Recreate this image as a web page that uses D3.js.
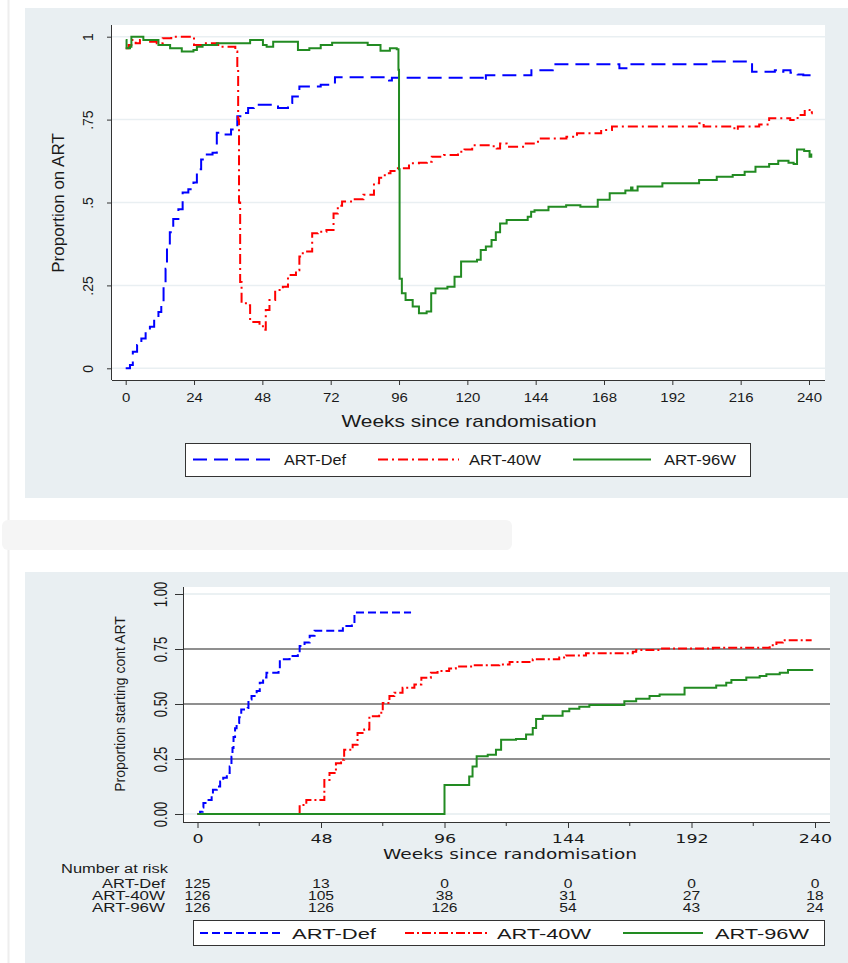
<!DOCTYPE html>
<html>
<head>
<meta charset="utf-8">
<script src="https://cdn.jsdelivr.net/npm/d3@7"></script>
<style>
  body { margin: 0; background: #fff; }
  svg { display: block; }
  text { font-family: "Liberation Sans", Arial, sans-serif; fill: #1a1a1a; }
</style>
</head>
<body>
<div id="viz"></div>
<script>
// ---- data ----
// top panel: proportion on ART, [week, proportion] step points
var topDef = [[0,0],[1.5,0.01],[2.5,0.05],[4,0.07],[5.5,0.09],[7,0.11],[8.5,0.125],[10,0.15],[11.5,0.17],[12.5,0.2],[13.3,0.25],[14,0.3],[14.5,0.37],[15.5,0.41],[16.7,0.45],[18.5,0.48],[20,0.53],[22,0.54],[23.8,0.56],[25,0.6],[26.5,0.63],[27.5,0.645],[30.5,0.65],[32,0.71],[34,0.705],[37,0.72],[39.2,0.76],[41,0.77],[43,0.785],[45,0.795],[51,0.795],[53.5,0.785],[57,0.8],[58.5,0.82],[61,0.85],[68.5,0.855],[71.5,0.862],[73.5,0.878],[91.5,0.874],[92.5,0.868],[93.5,0.876],[124.8,0.876],[125.4,0.866],[126.5,0.884],[142.5,0.899],[150,0.917],[172.8,0.917],[173.4,0.905],[176.5,0.917],[204.5,0.925],[220,0.894],[228,0.899],[229.5,0.894],[231,0.899],[233.5,0.891],[236,0.886],[238,0.884],[241,0.884]];
var top40W = [[0,0.965],[1,0.975],[2,0.99],[3.5,0.98],[5,0.99],[8,0.985],[10.9,0.98],[13,0.995],[16,1.0],[24,0.975],[27,0.98],[32.5,0.97],[38.5,0.955],[39.2,0.9],[39.5,0.75],[39.8,0.5],[40.2,0.26],[40.7,0.196],[43,0.19],[43.7,0.14],[47,0.13],[48.2,0.116],[49.2,0.176],[50.5,0.206],[52.5,0.236],[55.2,0.246],[57,0.281],[59.8,0.296],[61,0.337],[62.2,0.352],[65.5,0.407],[67.5,0.412],[70.5,0.417],[73,0.467],[74.5,0.49],[76,0.503],[80,0.51],[83.5,0.523],[87.2,0.558],[89,0.575],[91,0.588],[93,0.595],[95,0.603],[99.5,0.618],[103,0.62],[105.8,0.623],[107.5,0.638],[111.8,0.643],[116.7,0.653],[119,0.66],[121.7,0.673],[128,0.67],[130.3,0.663],[131.5,0.678],[133.8,0.668],[140,0.678],[144.8,0.693],[154.8,0.698],[158.5,0.709],[167,0.719],[170.8,0.729],[201.5,0.739],[203,0.729],[213.8,0.719],[215,0.729],[222.5,0.735],[226,0.754],[233.4,0.749],[236,0.764],[238.5,0.779],[240.2,0.769],[241,0.775]];
var top96W = [[0,0.99],[0.3,0.965],[1.5,0.97],[2,1.0],[6.2,0.99],[11.5,0.975],[15.6,0.965],[19.7,0.955],[23.8,0.96],[25,0.97],[27,0.975],[32,0.98],[43.7,0.99],[48.2,0.975],[49.5,0.97],[51.8,0.985],[60.5,0.96],[64.5,0.965],[68.5,0.975],[72.5,0.982],[85,0.975],[89.5,0.958],[92.8,0.965],[95.2,0.962],[95.8,0.9],[96,0.6],[96.2,0.27],[97,0.226],[98.3,0.206],[100.8,0.186],[103,0.166],[105.7,0.171],[107.3,0.226],[108.8,0.241],[113,0.246],[115.5,0.276],[117.8,0.322],[123.4,0.327],[124.7,0.357],[126.5,0.367],[128.5,0.387],[130,0.41],[131.5,0.437],[133.8,0.447],[141.2,0.457],[142.4,0.472],[143.6,0.477],[148.5,0.487],[154.7,0.492],[159.7,0.487],[165.8,0.508],[170,0.528],[175.5,0.536],[177.5,0.545],[178,0.536],[179.8,0.548],[188.5,0.558],[201.4,0.568],[207.6,0.578],[213.2,0.583],[217.4,0.593],[221.2,0.608],[226,0.616],[229.2,0.626],[232.8,0.62],[234.6,0.616],[235.8,0.66],[238.3,0.655],[240.2,0.638],[240.8,0.648]];

// bottom panel: proportion starting continuous ART
var botDef = [[0,0],[1,0.01],[2,0.03],[2.3,0.05],[4.3,0.064],[5.5,0.09],[6,0.11],[7.5,0.125],[8.8,0.148],[10,0.165],[11.4,0.186],[12.5,0.216],[13.2,0.26],[13.6,0.3],[14,0.35],[14.6,0.39],[15.2,0.414],[16.2,0.44],[17,0.475],[19.5,0.482],[19.8,0.52],[21,0.536],[23,0.559],[24.2,0.597],[25.5,0.62],[26.8,0.642],[31.5,0.65],[32,0.703],[35.8,0.718],[39,0.734],[39.7,0.764],[41.6,0.779],[43.6,0.81],[45.5,0.833],[56.5,0.855],[60,0.863],[61,0.916],[83,0.916]];
var bot40W = [[0,0],[39.7,0.041],[42.3,0.064],[49.3,0.155],[51.3,0.186],[53.8,0.231],[55.8,0.247],[57,0.292],[60.3,0.315],[62.2,0.368],[64.8,0.384],[66.8,0.444],[70.6,0.46],[72,0.505],[74.6,0.536],[76.5,0.551],[79.7,0.574],[84.3,0.589],[87,0.619],[90.7,0.642],[93.3,0.65],[97.8,0.661],[100.4,0.67],[106.9,0.676],[117.3,0.68],[121.3,0.691],[130.3,0.703],[140.6,0.711],[143.2,0.721],[151,0.731],[169.2,0.737],[170.5,0.746],[179.6,0.752],[200.3,0.756],[222.4,0.767],[225,0.779],[227.5,0.79],[238.7,0.79]];
var bot96W = [[0,0],[96,0.132],[105.6,0.17],[106.9,0.216],[108.5,0.262],[112.8,0.269],[116,0.292],[118,0.338],[123.8,0.341],[127.7,0.361],[130.3,0.391],[131.6,0.432],[134.2,0.447],[141.9,0.467],[144.5,0.478],[148.4,0.487],[152.3,0.495],[165.9,0.513],[170.5,0.524],[175.7,0.536],[179.6,0.543],[189.3,0.574],[201.6,0.584],[205.5,0.597],[207.5,0.609],[213.3,0.62],[218.5,0.627],[221.1,0.635],[226.3,0.642],[229.5,0.654],[239.3,0.654]];

var groups = ["ART-Def", "ART-40W", "ART-96W"];
var colors = ["#0000ff", "#ff0000", "#228b22"];
var topTicksX = [0,24,48,72,96,120,144,168,192,216,240];
var topTicksY = [0,0.25,0.5,0.75,1];
var topLabelsY = ["0",".25",".5",".75","1"];
var botTicksX = [0,48,96,144,192,240];
var botMinorX = [24,72,120,168,216];
var botTicksY = [0,0.25,0.5,0.75,1];
var botLabelsY = ["0.00","0.25","0.50","0.75","1.00"];
var riskDef = [125,13,0,0,0,0];
var risk40W = [126,105,38,31,27,18];
var risk96W = [126,126,126,54,43,24];

var W = 848, H = 963;
var BG = "#e9eff2";

var svg = d3.select("#viz").append("svg")
  .attr("width", W).attr("height", H);

svg.append("rect").attr("width", W).attr("height", H).attr("fill", "#fff");
// faint page edge + smudge between the panels
svg.append("line").attr("x1", 8.5).attr("x2", 8.5).attr("y1", 0).attr("y2", H)
  .attr("stroke", "#eeeeee").attr("stroke-width", 2);
svg.append("rect").attr("x", 2).attr("y", 520).attr("width", 510).attr("height", 30)
  .attr("rx", 6).attr("fill", "#f5f5f5");

// stretch text horizontally (the figure was scaled wider than tall)
function stretch(sel, k) {
  sel.each(function() {
    var w = this.getComputedTextLength();
    d3.select(this).attr("textLength", w * k).attr("lengthAdjust", "spacingAndGlyphs");
  });
}

// ================= top panel =================
svg.append("rect").attr("x", 25).attr("y", 8).attr("width", W - 25).attr("height", 490).attr("fill", BG);
svg.append("rect").attr("x", 112).attr("y", 25).attr("width", 713).attr("height", 355).attr("fill", "#fff");

var xTop = d3.scaleLinear().domain([0, 240]).range([125.7, 809]);
var yTop = d3.scaleLinear().domain([0, 1]).range([368.3, 36.7]);

// grid
svg.append("g").selectAll("line").data(topTicksY).join("line")
  .attr("x1", 112).attr("x2", 825)
  .attr("y1", function(d) { return yTop(d); }).attr("y2", function(d) { return yTop(d); })
  .attr("stroke", BG).attr("stroke-width", 1.5);

var gxTop = svg.append("g").attr("transform", "translate(0,380)")
  .call(d3.axisBottom(xTop).tickValues(topTicksX).tickSize(5).tickPadding(8).tickSizeOuter(0));
gxTop.select(".domain").attr("d", "M112,0.5H825").attr("stroke", "#333");
gxTop.selectAll(".tick line").attr("stroke", "#333");
gxTop.selectAll(".tick text").style("font-family", "Liberation Sans").attr("font-size", 13).attr("fill", "#1a1a1a");
stretch(gxTop.selectAll(".tick text"), 1.15);

var gyTop = svg.append("g").attr("transform", "translate(112,0)")
  .call(d3.axisLeft(yTop).tickValues(topTicksY).tickSize(5).tickSizeOuter(0)
    .tickFormat(function(d, i) { return topLabelsY[i]; }));
gyTop.select(".domain").attr("d", "M-0.5,25V380").attr("stroke", "#333");
gyTop.selectAll(".tick line").attr("stroke", "#333");
gyTop.selectAll(".tick text")
  .style("font-family", "Liberation Sans").attr("font-size", 14).attr("fill", "#1a1a1a")
  .attr("x", null).attr("dy", null).attr("text-anchor", "middle")
  .attr("transform", "translate(-19,0) rotate(-90)");

svg.append("text").attr("transform", "translate(64,203) rotate(-90)")
  .attr("text-anchor", "middle").attr("font-size", 17).text("Proportion on ART");
svg.append("text").attr("x", 469).attr("y", 427).attr("text-anchor", "middle")
  .attr("font-size", 17).attr("textLength", 255).attr("lengthAdjust", "spacingAndGlyphs")
  .text("Weeks since randomisation");

var lineTop = d3.line().curve(d3.curveStepAfter)
  .x(function(d) { return xTop(d[0]); }).y(function(d) { return yTop(d[1]); });
var topDash = ["14,7", "10,4,2,4", null];
[topDef, top40W, top96W].forEach(function(s, i) {
  svg.append("path").datum(s).attr("d", lineTop)
    .attr("fill", "none").attr("stroke", colors[i]).attr("stroke-width", 2)
    .attr("stroke-dasharray", topDash[i]);
});

// legend
svg.append("rect").attr("x", 185.5).attr("y", 443.5).attr("width", 565).attr("height", 33)
  .attr("fill", "#fff").attr("stroke", "#333");
var legTop = [[193, 273, 284, 62], [378, 459, 469, 72], [573, 651, 664, 72]];
legTop.forEach(function(l, i) {
  svg.append("line").attr("x1", l[0]).attr("x2", l[1]).attr("y1", 459.5).attr("y2", 459.5)
    .attr("stroke", colors[i]).attr("stroke-width", 2).attr("stroke-dasharray", topDash[i]);
  svg.append("text").attr("x", l[2]).attr("y", 464.5).attr("font-size", 14)
    .attr("textLength", l[3]).attr("lengthAdjust", "spacingAndGlyphs").text(groups[i]);
});

// ================= bottom panel =================
svg.append("rect").attr("x", 25).attr("y", 572).attr("width", W - 25).attr("height", H - 572).attr("fill", BG);
svg.append("rect").attr("x", 183).attr("y", 587).attr("width", 647).attr("height", 235).attr("fill", "#fff");

var xBot = d3.scaleLinear().domain([0, 240]).range([197.5, 815]);
var yBot = d3.scaleLinear().domain([0, 1]).range([814, 594]);

svg.append("g").selectAll("line").data(botTicksY).join("line")
  .attr("x1", 183).attr("x2", 830)
  .attr("y1", function(d) { return yBot(d); }).attr("y2", function(d) { return yBot(d); })
  .attr("stroke", function(d) { return (d === 0 || d === 1) ? "#e4ecef" : "#6a6a6a"; })
  .attr("stroke-width", 1.5);

var gxBot = svg.append("g").attr("transform", "translate(0,822)")
  .call(d3.axisBottom(xBot).tickValues(botTicksX).tickSize(6).tickPadding(6).tickSizeOuter(0));
gxBot.select(".domain").attr("d", "M183,0.5H830").attr("stroke", "#333");
gxBot.selectAll(".tick line").attr("stroke", "#333");
gxBot.selectAll(".tick text").style("font-family", "DejaVu Sans").attr("font-size", 12.5).attr("fill", "#1a1a1a");
stretch(gxBot.selectAll(".tick text"), 1.4);
gxBot.append("g").selectAll("line").data(botMinorX).join("line")
  .attr("x1", function(d) { return xBot(d); }).attr("x2", function(d) { return xBot(d); })
  .attr("y1", 0).attr("y2", 4).attr("stroke", "#333");

var gyBot = svg.append("g").attr("transform", "translate(183,0)")
  .call(d3.axisLeft(yBot).tickValues(botTicksY).tickSize(8).tickSizeOuter(0)
    .tickFormat(function(d, i) { return botLabelsY[i]; }));
gyBot.select(".domain").attr("d", "M0.5,587V822").attr("stroke", "#333");
gyBot.selectAll(".tick line").attr("stroke", "#333");
gyBot.selectAll(".tick text")
  .style("font-family", "Liberation Sans").attr("font-size", 13).attr("fill", "#1a1a1a")
  .attr("x", null).attr("dy", null).attr("text-anchor", "middle")
  .attr("transform", "translate(-16.5,0) rotate(-90) scale(1,1.35)");

svg.append("text").attr("transform", "translate(125,704) rotate(-90)")
  .attr("text-anchor", "middle").attr("font-size", 14).text("Proportion starting cont ART");
svg.append("text").attr("x", 510).attr("y", 858.5).attr("text-anchor", "middle")
  .style("font-family", "DejaVu Sans").attr("font-size", 14)
  .attr("textLength", 254).attr("lengthAdjust", "spacingAndGlyphs")
  .text("Weeks since randomisation");

var lineBot = d3.line().curve(d3.curveStepAfter)
  .x(function(d) { return xBot(d[0]); }).y(function(d) { return yBot(d[1]); });
var botDash = ["8,4", "9,3,2,3", null];
[botDef, bot40W, bot96W].forEach(function(s, i) {
  svg.append("path").datum(s).attr("d", lineBot)
    .attr("fill", "none").attr("stroke", colors[i]).attr("stroke-width", 2)
    .attr("stroke-dasharray", botDash[i]);
});

// number at risk
svg.append("text").attr("x", 61).attr("y", 872.5).attr("font-size", 12)
  .attr("textLength", 107).attr("lengthAdjust", "spacingAndGlyphs").text("Number at risk");
var riskRows = [riskDef, risk40W, risk96W];
var riskY = [887.5, 899.8, 912.2];
var riskLabW = [63, 73, 73];
riskRows.forEach(function(r, i) {
  svg.append("text").attr("x", 165).attr("y", riskY[i]).attr("text-anchor", "end")
    .attr("font-size", 12).attr("textLength", riskLabW[i]).attr("lengthAdjust", "spacingAndGlyphs")
    .text(groups[i]);
  var t = svg.append("g").selectAll("text").data(r).join("text")
    .attr("x", function(d, j) { return xBot(botTicksX[j]); }).attr("y", riskY[i])
    .attr("text-anchor", "middle").attr("font-size", 12)
    .text(function(d) { return d; });
  stretch(t, 1.3);
});

// legend
svg.append("rect").attr("x", 193.5).attr("y", 920.5).attr("width", 631).attr("height", 25)
  .attr("fill", "#fff").attr("stroke", "#333");
var legBot = [[200, 280, 292, 84], [405, 487, 497, 94], [623, 703, 715, 94]];
legBot.forEach(function(l, i) {
  svg.append("line").attr("x1", l[0]).attr("x2", l[1]).attr("y1", 933).attr("y2", 933)
    .attr("stroke", colors[i]).attr("stroke-width", 2).attr("stroke-dasharray", botDash[i]);
  svg.append("text").attr("x", l[2]).attr("y", 938.8).attr("font-size", 15)
    .attr("textLength", l[3]).attr("lengthAdjust", "spacingAndGlyphs").text(groups[i]);
});
</script>
</body>
</html>
